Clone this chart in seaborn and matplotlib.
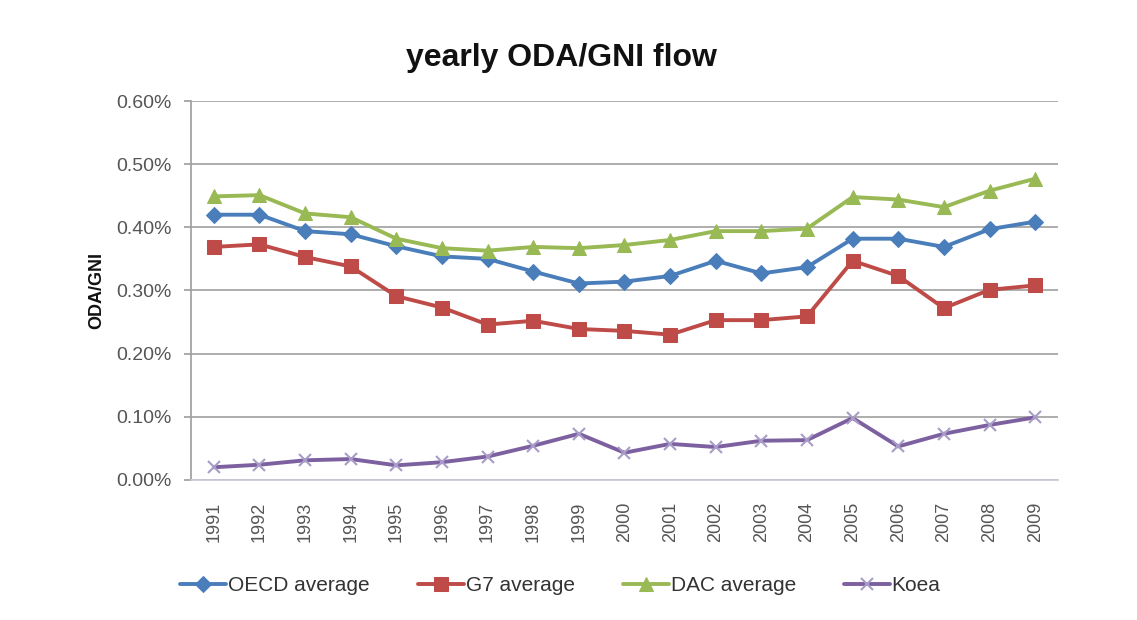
import matplotlib
matplotlib.use("Agg")
import matplotlib.pyplot as plt
import seaborn as sns
import pandas as pd
from matplotlib.ticker import FuncFormatter

years = [str(y) for y in range(1991, 2010)]
oecd = [0.420, 0.420, 0.394, 0.389, 0.370, 0.354, 0.350, 0.330, 0.311, 0.314,
        0.323, 0.347, 0.327, 0.337, 0.382, 0.382, 0.369, 0.397, 0.409]
g7 = [0.369, 0.373, 0.353, 0.338, 0.291, 0.273, 0.246, 0.252, 0.239, 0.236,
      0.230, 0.253, 0.253, 0.259, 0.347, 0.323, 0.272, 0.301, 0.308]
dac = [0.449, 0.451, 0.422, 0.416, 0.382, 0.367, 0.363, 0.369, 0.367, 0.372,
       0.380, 0.394, 0.394, 0.398, 0.448, 0.444, 0.432, 0.458, 0.477]
korea = [0.020, 0.024, 0.031, 0.033, 0.023, 0.028, 0.037, 0.054, 0.073, 0.043,
         0.057, 0.052, 0.062, 0.063, 0.098, 0.053, 0.073, 0.087, 0.099]
series_names = ["OECD average", "G7 average", "DAC average", "Koea"]

sns.set_theme(style="white")
plt.rcParams['font.family'] = ['Liberation Sans', 'DejaVu Sans']

fig = plt.figure(figsize=(11.37, 6.2), dpi=100)
ax = fig.add_axes([0.168, 0.226, 0.7625, 0.611])

styles = [
    dict(color="#4A7EBB", marker="D", markersize=8, mfc="#4A7EBB", mec="#4A7EBB"),
    dict(color="#BE4B48", marker="s", markersize=10, mfc="#BE4B48", mec="#BE4B48"),
    dict(color="#98B954", marker="^", markersize=10, mfc="#98B954", mec="#98B954"),
    dict(color="#7D60A0", marker="x", markersize=9, mfc="none", mec="#A89CC8", mew=1.5),
]
for name, vals, st in zip(series_names, [oecd, g7, dac, korea], styles):
    df = pd.DataFrame({"year": years, "value": vals})
    sns.lineplot(data=df, x="year", y="value", ax=ax, label=name, linewidth=2.8,
                 sort=False, **st)

ax.set_xlim(-0.5, len(years) - 0.5)
ax.set_ylim(0, 0.6)
ax.set_yticks([0, 0.1, 0.2, 0.3, 0.4, 0.5, 0.6])
ax.yaxis.set_major_formatter(FuncFormatter(lambda v, p: f"{v:.2f}%"))
ax.grid(axis="y", color="#A0A0A0", linewidth=1.2)
ax.grid(axis="x", visible=False)
for s in ["top", "right"]:
    ax.spines[s].set_visible(False)
ax.spines["left"].set_color("#A0A0A0")
ax.spines["bottom"].set_color("#C8C8D8")
ax.tick_params(axis="y", colors="#555555", labelsize=14, left=True, length=5,
               color="#A0A0A0", pad=9)
ax.tick_params(axis="x", colors="#555555", labelsize=13, rotation=90, bottom=False, pad=10)
for lbl in ax.get_yticklabels() + ax.get_xticklabels():
    lbl.set_color("#555555")
ax.set_xlabel("")
ax.set_ylabel("ODA/GNI", fontsize=13, fontweight="bold", color="#111111", labelpad=8)
fig.text(0.494, 0.906, "yearly ODA/GNI flow", ha="center", va="center",
         fontsize=23, fontweight="bold", color="#111111")

handles, labels = ax.get_legend_handles_labels()
ax.get_legend().remove()
fig.legend(handles, labels, loc="center", bbox_to_anchor=(0.493, 0.055), ncol=4,
           frameon=False, fontsize=15, handlelength=2.2, handletextpad=0.1,
           columnspacing=2.3, labelcolor="#333333")

fig.savefig("out.png", dpi=100)
